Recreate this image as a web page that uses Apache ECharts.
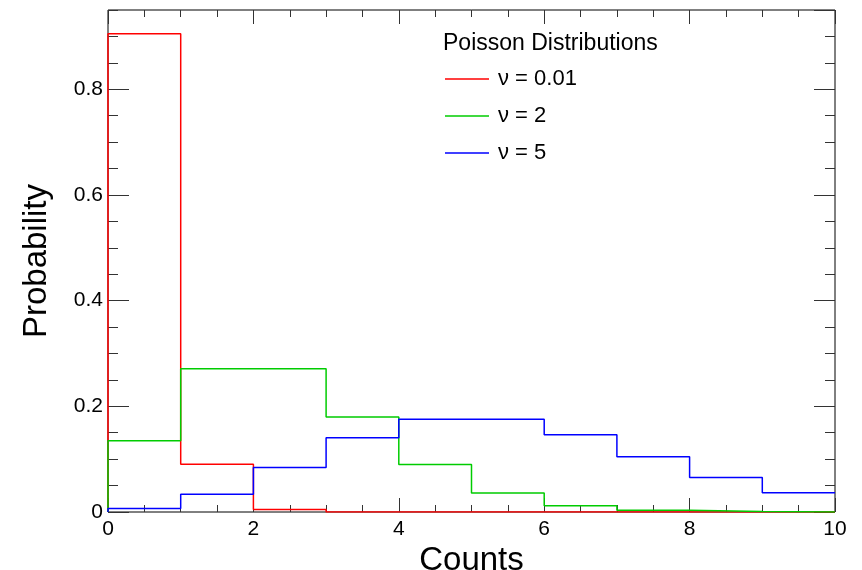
<!DOCTYPE html>
<html>
<head>
<meta charset="utf-8">
<script src="https://cdn.jsdelivr.net/npm/echarts@6/dist/echarts.min.js"></script>
<style>
  html, body { margin: 0; padding: 0; background: #fff; }
  #chart { width: 862px; height: 570px; }
</style>
</head>
<body>
<div id="chart"></div>
<script>
// Bin lower edges (counts 0..9), each bin is 1 wide
const binEdges = [0, 1, 2, 3, 4, 5, 6, 7, 8, 9];
const upperEdge = 10;

// Probability per bin for each distribution
const probNu001 = [0.905, 0.0905, 0.0045, 0.0002, 0, 0, 0, 0, 0, 0];
const probNu2   = [0.135, 0.271, 0.271, 0.180, 0.090, 0.036, 0.012, 0.0034, 0.0009, 0.0002];
const probNu5   = [0.0067, 0.0337, 0.0842, 0.1404, 0.1755, 0.1755, 0.1462, 0.1044, 0.0653, 0.0363];

const seriesNames  = ['\u03bd = 0.01', '\u03bd = 2', '\u03bd = 5'];
const seriesColors = ['#ff0000', '#00cc00', '#0000ff'];
const legendTitle  = 'Poisson Distributions';
const xTitle = 'Counts';
const yTitle = 'Probability';

const FONT = '"Liberation Sans", Arial, Helvetica, sans-serif';

// Histogram outline: start at zero, one step per bin, close at the upper edge
function histPoints(values) {
  const pts = [[binEdges[0], 0]];
  binEdges.forEach((x, i) => pts.push([x, values[i]]));
  pts.push([upperEdge, values[values.length - 1]]);
  return pts;
}

const tickColor = '#333';
function xAx(pos, interval, len, labels) {
  return {
    type: 'value', position: pos, min: 0, max: 10, interval: interval,
    axisLine: { show: false, onZero: false },
    axisTick: { show: true, inside: true, length: len, lineStyle: { color: tickColor, width: 1 } },
    splitLine: { show: false },
    axisLabel: labels ? { show: true, fontFamily: FONT, fontSize: 21, color: '#000', margin: 7 } : { show: false },
    name: labels ? xTitle : '',
    nameLocation: 'middle', nameGap: 23,
    nameTextStyle: { fontFamily: FONT, fontSize: 33, color: '#000' }
  };
}
function yAx(pos, interval, len, labels) {
  return {
    type: 'value', position: pos, min: 0, max: 0.95, interval: interval,
    axisLine: { show: false, onZero: false },
    axisTick: { show: true, inside: true, length: len, lineStyle: { color: tickColor, width: 1 } },
    splitLine: { show: false },
    axisLabel: labels ? {
      show: true, fontFamily: FONT, fontSize: 21, color: '#000', margin: 5,
      showMaxLabel: false,
      formatter: v => (v === 0 ? '0' : v.toFixed(1))
    } : { show: false },
    name: labels ? yTitle : '',
    nameLocation: 'middle', nameGap: 55,
    nameTextStyle: { fontFamily: FONT, fontSize: 33, color: '#000' }
  };
}

const chart = echarts.init(document.getElementById('chart'), null, { renderer: 'canvas' });
chart.setOption({
  animation: false,
  backgroundColor: '#fff',
  grid: {
    left: 108, right: 27, top: 10, bottom: 58,
    outerBoundsMode: 'none', containLabel: false,
    show: true, borderColor: '#000', borderWidth: 1, backgroundColor: 'transparent'
  },
  title: {
    text: legendTitle, left: 443, top: 32, padding: 0,
    textStyle: { fontFamily: FONT, fontSize: 23, fontWeight: 'normal', color: '#000' }
  },
  legend: {
    orient: 'vertical', left: 445, top: 68, padding: 0,
    icon: 'rect', itemWidth: 44, itemHeight: 1.5, itemGap: 15,
    textStyle: { fontFamily: FONT, fontSize: 22, color: '#000', padding: [0, 0, 0, 4] },
    data: seriesNames
  },
  xAxis: [
    xAx('bottom', 2, 14, true),
    xAx('bottom', 0.5, 7, false),
    xAx('top', 2, 14, false),
    xAx('top', 0.5, 7, false)
  ],
  yAxis: [
    yAx('left', 0.2, 21, true),
    yAx('left', 0.05, 10, false),
    yAx('right', 0.2, 21, false),
    yAx('right', 0.05, 10, false)
  ],
  series: [probNu001, probNu2, probNu5].map((vals, i) => ({
    name: seriesNames[i],
    type: 'line',
    step: 'end',
    xAxisIndex: 0, yAxisIndex: 0,
    showSymbol: false, symbol: 'none',
    lineStyle: { color: seriesColors[i], width: 1.5 },
    itemStyle: { color: seriesColors[i] },
    data: histPoints(vals)
  }))
});
</script>
</body>
</html>
